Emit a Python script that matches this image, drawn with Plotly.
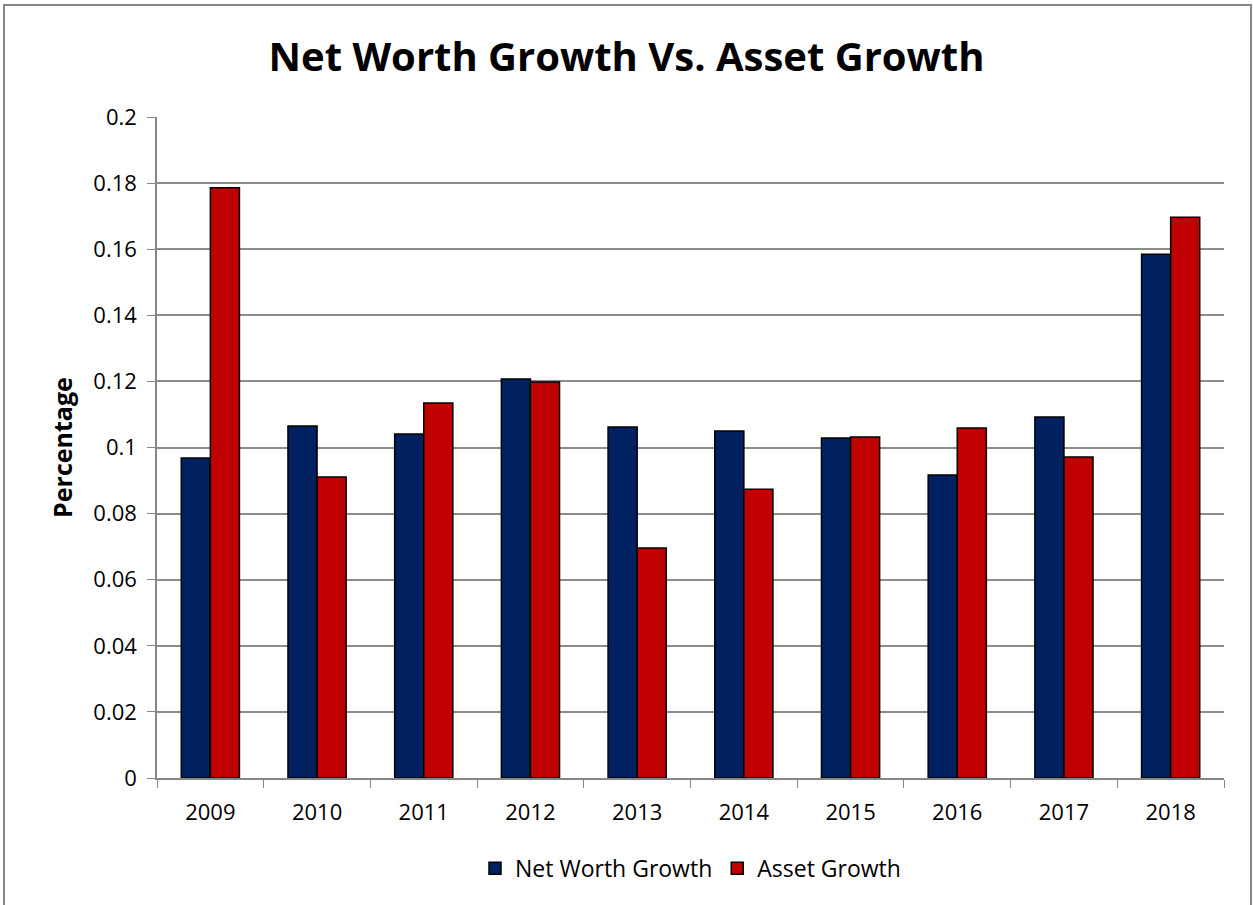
import plotly.graph_objects as go

years = ['2009', '2010', '2011', '2012', '2013', '2014', '2015', '2016', '2017', '2018']
net_worth_growth = [0.0968, 0.1065, 0.1041, 0.1207, 0.1062, 0.1050, 0.1029, 0.0917, 0.1092, 0.1585]
asset_growth = [0.1786, 0.0911, 0.1135, 0.1198, 0.0696, 0.0874, 0.1032, 0.1059, 0.0971, 0.1697]
y_ticks = [0, 0.02, 0.04, 0.06, 0.08, 0.1, 0.12, 0.14, 0.16, 0.18, 0.2]

NAVY = '#002060'
RED = '#C00000'
FONT = 'Open Sans'

fig = go.Figure()

fig.add_trace(go.Bar(
    name='Net Worth Growth', x=years, y=net_worth_growth,
    marker=dict(color=NAVY, line=dict(color='black', width=1.5)),
))
fig.add_trace(go.Bar(
    name='Asset Growth', x=years, y=asset_growth,
    marker=dict(color=RED, line=dict(color='black', width=1.5)),
))

fig.update_layout(
    width=1253, height=905,
    margin=dict(l=157, r=29, t=117, b=127),
    paper_bgcolor='white', plot_bgcolor='white',
    font=dict(family=FONT, size=22, color='black'),
    title=dict(text='<b>Net Worth Growth Vs. Asset Growth</b>',
               x=0.5, xanchor='center', y=1 - 57 / 905, yanchor='middle',
               font=dict(size=40, color='black')),
    barmode='group', bargap=0.455, bargroupgap=0,
    showlegend=True,
    legend=dict(orientation='h', x=0.5, xanchor='center', y=-0.104, yanchor='top',
                font=dict(size=23), itemwidth=30, traceorder='normal'),
    xaxis=dict(showgrid=False, showline=True, linecolor='#868686', linewidth=1.5,
               ticks='outside', tickson='boundaries', ticklen=8, tickcolor='#868686',
               tickfont=dict(size=22), ticklabelstandoff=14),
    yaxis=dict(range=[0, 0.2], tickvals=y_ticks, ticktext=[f'{v:g}' for v in y_ticks],
               showgrid=True, gridcolor='#8c8c8c', gridwidth=1.5,
               showline=True, linecolor='#868686', linewidth=1.5,
               ticks='outside', ticklen=8, tickcolor='#868686',
               tickfont=dict(size=22), zeroline=False, ticklabelstandoff=6,
               title=dict(text='<b>Percentage</b>', font=dict(size=25), standoff=14)),
    shapes=[dict(type='rect', xref='paper', yref='paper',
                 x0=-153 / 1067, x1=1.0 + 27 / 1067, y0=-135 / 661, y1=1.0 + 112 / 661,
                 line=dict(color='#868686', width=2), fillcolor='rgba(0,0,0,0)', layer='below')],
)

fig.write_html('out.html', config={'displayModeBar': False},
               post_script="document.body.style.margin='0';")
